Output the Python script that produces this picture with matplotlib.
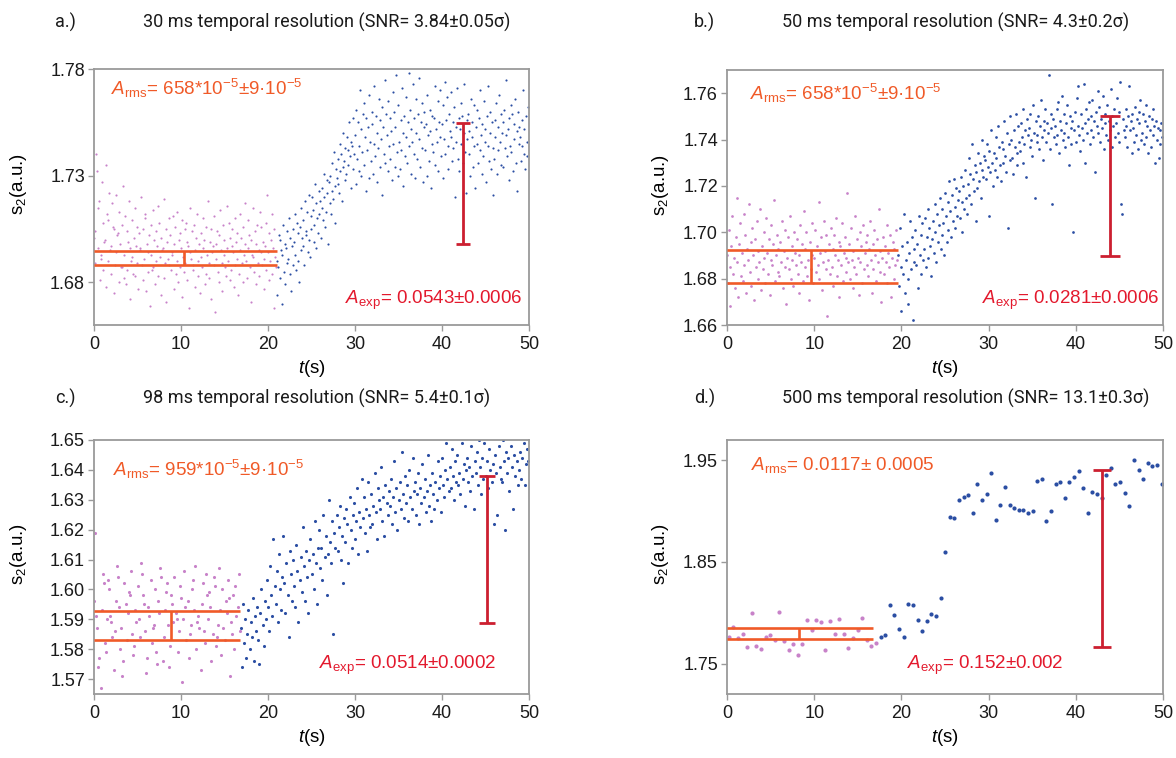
import numpy as np
import matplotlib
matplotlib.use("Agg")
import matplotlib.pyplot as plt

plt.rcParams['font.family'] = ['Liberation Sans', 'DejaVu Sans']
plt.rcParams['mathtext.fontset'] = 'custom'
plt.rcParams['mathtext.rm'] = 'Liberation Sans'
plt.rcParams['mathtext.it'] = 'Liberation Sans:italic'

PINK = "#c882c9"
BLUE = "#2b4ea3"
ORANGE = "#f05a28"
RED = "#cc1f30"
RED_TXT = "#e3192d"
GRAY = "#9a9a9a"

##############################################
######## PANEL A : 30 ms  (1e-3 a.u. above 1.66)
a_dt = 0.0833
a_pink = [41, 44, 29, 80, 72, 36, 55, 58, 21, 33, 31, 67, 48, 26, 39, 40, 75, 18, 52, 49, 30,
          62, 35, 37, 24, 57, 46, 45, 15, 28, 61, 34, 42, 43, 20, 53, 38, 27, 27, 47, 65, 22,
          33, 51, 19, 26, 44, 39, 58, 36, 12, 30, 32, 49, 24, 41, 55, 23, 37, 46, 29, 17, 43,
          35, 36, 60, 28, 21, 45, 31, 52, 50, 16, 38, 25, 34, 42, 9, 47, 33, 26, 27, 54, 40,
          19, 30, 44, 37, 23, 56, 48, 32, 14, 41, 35, 36, 22, 59, 29, 45, 11, 39, 31, 28, 50,
          42, 26, 34, 33, 51, 17, 38, 46, 24, 30, 53, 20, 40, 43, 27, 36, 13, 49, 32, 25, 45,
          29, 48, 21, 39, 37, 8, 34, 55, 31, 44, 26, 28, 47, 18, 35, 41, 52, 23, 30, 38, 15,
          43, 32, 27, 50, 36, 40, 19, 24, 46, 33, 58, 29, 22, 39, 45, 12, 34, 37, 28, 51, 6,
          38, 31, 44, 25, 20, 42, 54, 35, 29, 16, 47, 40, 33, 27, 23, 56, 36, 30, 48, 21, 41,
          26, 45, 37, 34, 18, 50, 28, 39, 43, 31, 14, 24, 52, 35, 41, 29, 46, 20, 33, 38, 57,
          30, 22, 49, 36, 42, 27, 11, 40, 33, 55, 32, 25, 44, 38, 19, 47, 29, 35, 23, 53, 34,
          46, 28, 39, 17, 31, 37, 48, 26, 61, 34, 21, 43, 30, 40, 52, 24, 36, 8, 45, 32, 27]
a_blue = [30, 14, 27, 42, 40, 22, 35, 10, 33, 47, 25, 38,
          19, 36, 44, 29, 31, 50, 24, 41, 16, 37, 45, 28,
          39, 33, 52, 26, 48, 43, 30, 20, 46, 55, 35, 41,
          49, 37, 28, 58, 44, 42, 53, 34, 61, 40, 32, 51,
          45, 60, 54, 39, 47, 66, 36, 57, 50, 43, 63, 52,
          58, 41, 64, 55, 49, 71, 60, 46, 53, 68, 62, 38,
          67, 57, 70, 52, 76, 63, 59, 81, 65, 48, 73, 69,
          78, 66, 62, 85, 72, 80, 58, 74, 90, 77, 68, 83,
          71, 88, 82, 75, 95, 79, 64, 86, 84, 73, 97, 80,
          89, 66, 101, 78, 95, 72, 84, 110, 70, 92, 81, 99,
          75, 104, 88, 63, 97, 82, 93, 69, 108, 86, 77, 100,
          94, 71, 85, 112, 79, 98, 67, 90, 83, 106, 74, 96,
          87, 102, 61, 93, 80, 115, 76, 99, 89, 72, 105, 84,
          97, 78, 91, 68, 109, 85, 100, 74, 93, 117, 81, 70,
          103, 86, 73, 96, 82, 111, 90, 65, 98, 79, 107, 88,
          76, 95, 118, 84, 101, 71, 92, 86, 113, 80, 97, 69,
          90, 106, 78, 99, 87, 116, 74, 95, 83, 104, 67, 93,
          100, 82, 94, 70, 108, 89, 77, 101, 91, 64, 98, 85,
          81, 97, 112, 75, 92, 86, 105, 72, 95, 88, 110, 79,
          94, 69, 103, 87, 114, 80, 96, 107, 84, 73, 99, 91,
          88, 109, 77, 95, 83, 102, 60, 93, 86, 111, 78, 97,
          72, 92, 104, 85, 98, 76, 90, 113, 81, 62, 96, 87,
          99, 80, 91, 70, 106, 88, 95, 74, 103, 84, 64, 93,
          85, 101, 76, 97, 82, 110, 89, 71, 94, 79, 105, 86,
          92, 67, 98, 84, 112, 77, 90, 100, 73, 95, 83, 61,
          78, 96, 88, 104, 71, 93, 82, 108, 86, 75, 99, 90,
          95, 74, 101, 83, 89, 115, 79, 92, 68, 97, 84, 103,
          81, 99, 72, 94, 87, 106, 76, 91, 63, 100, 85, 93,
          88, 77, 96, 84, 110, 80, 92, 73, 98, 86, 79, 102]

##############################################
######## PANEL B : 50 ms  (1e-3 a.u. above 1.66)
b_dt = 0.1
b_pink = [30, 18, 41, 25, 8, 34, 47, 22, 29, 16, 38, 55, 27, 12, 35, 44, 21, 31, 19, 48,
          26, 39, 14, 33, 28, 52, 23, 36, 17, 42, 30, 11, 37, 25, 45, 20, 32, 27, 50, 15,
          34, 24, 40, 29, 18, 46, 31, 22, 37, 13, 28, 43, 26, 35, 54, 19, 30, 39, 23, 33,
          21, 36, 27, 45, 16, 32, 25, 41, 9, 29, 38, 24, 47, 20, 34, 28, 17, 40, 31, 26,
          37, 22, 30, 14, 43, 27, 35, 19, 49, 25, 33, 40, 21, 28, 11, 36, 24, 44, 30, 18,
          29, 41, 23, 34, 26, 53, 20, 31, 38, 15, 27, 45, 32, 24, 39, 4, 28, 35, 22, 42,
          25, 33, 17, 39, 30, 46, 21, 28, 36, 12, 34, 26, 44, 19, 31, 38, 23, 29, 57, 27,
          35, 20, 42, 28, 16, 32, 25, 47, 22, 37, 29, 13, 40, 27, 34, 18, 43, 24, 31, 36,
          26, 39, 21, 33, 45, 28, 14, 35, 24, 41, 30, 19, 37, 27, 50, 23, 32, 10, 29, 38,
          22, 34, 27, 43, 18, 31, 25, 39, 12, 29, 36, 20, 33, 26, 41, 28]
b_blue = [30, 17, 42, 25, 6, 34, 22, 48, 14, 28,
          36, 20, 9, 31, 45, 24, 38, 2, 27, 33,
          41, 26, 35, 16, 47, 30, 22, 39, 44, 28,
          33, 46, 25, 38, 50, 29, 42, 34, 21, 37,
          45, 31, 52, 40, 27, 48, 36, 43, 55, 33,
          39, 50, 44, 30, 57, 47, 36, 53, 41, 62,
          49, 38, 56, 45, 63, 51, 42, 59, 47, 54,
          58, 46, 64, 53, 40, 60, 50, 67, 55, 48,
          61, 72, 56, 65, 52, 78, 63, 58, 69, 45,
          66, 59, 74, 62, 70, 55, 80, 67, 64, 73,
          71, 63, 78, 68, 47, 75, 66, 84, 70, 60,
          74, 67, 81, 72, 64, 86, 77, 69, 62, 79,
          76, 70, 88, 73, 66, 83, 42, 78, 71, 90,
          80, 72, 65, 84, 77, 91, 74, 69, 86, 79,
          75, 87, 81, 70, 93, 78, 84, 64, 89, 82,
          85, 77, 91, 80, 73, 95, 83, 55, 88, 79,
          82, 90, 76, 86, 97, 81, 71, 88, 84, 93,
          79, 87, 83, 108, 76, 91, 85, 52, 89, 81,
          86, 78, 93, 82, 96, 74, 88, 84, 99, 80,
          83, 91, 77, 87, 95, 81, 69, 90, 85, 78,
          88, 40, 84, 92, 79, 98, 86, 103, 82, 75,
          91, 85, 80, 104, 87, 70, 93, 83, 89, 96,
          78, 90, 84, 97, 81, 88, 66, 92, 86, 101,
          83, 94, 79, 89, 85, 99, 76, 91, 87, 82,
          95, 80, 88, 84, 102, 77, 90, 86, 93, 81,
          87, 98, 83, 92, 79, 105, 52, 48, 89, 84,
          81, 93, 86, 77, 90, 103, 84, 88, 74, 91,
          85, 79, 94, 82, 89, 76, 92, 87, 97, 80,
          83, 91, 78, 88, 95, 81, 86, 74, 90, 84,
          77, 89, 82, 93, 86, 70, 88, 80, 85, 72,
          84, 78, 87, 81]

##############################################
######## PANEL C : 98 ms  (1e-3 a.u. above 1.565)
c_dt = 0.125
c_pink = [31, 54, 26, 22, 9, 12, 2, 28, 40, 37, 17, 14, 25, 38, 35,
          26, 24, 19, 8, 21, 31, 43, 39, 29, 15, 22, 6, 11, 37, 30,
          18, 27, 34, 33, 41, 20, 13, 16, 28, 24, 36, 25, 19, 44, 40,
          33, 30, 21, 7, 12, 29, 26, 38, 17, 22, 23, 35, 14, 10, 31,
          27, 42, 39, 11, 19, 28, 34, 37, 23, 9, 16, 33, 30, 24, 39,
          27, 25, 14, 21, 36, 32, 4, 25, 41, 29, 18, 31, 12, 20, 23,
          35, 38, 28, 43, 15, 24, 26, 22, 8, 30, 37, 21, 17, 40, 33,
          25, 34, 29, 11, 20, 39, 36, 16, 19, 23, 42, 28, 13, 35, 22,
          18, 31, 27, 38, 32, 6, 24, 20, 33, 15, 36, 26, 29, 40, 21]
c_blue = [22, 9, 30, 17, 25, 12, 20, 28,
          15, 24, 19, 32, 11, 26, 21, 29,
          18, 10, 27, 35, 23, 16, 31, 25,
          38, 29, 21, 43, 33, 26, 52, 36,
          30, 41, 24, 47, 35, 28, 39, 53,
          37, 27, 44, 33, 19, 48, 40, 31,
          45, 36, 29, 50, 41, 24, 38, 46,
          34, 56, 43, 31, 48, 39, 27, 45,
          52, 40, 47, 35, 58, 44, 30, 49,
          55, 42, 49, 38, 60, 46, 53, 33,
          47, 65, 51, 44, 58, 20, 54, 49,
          60, 48, 56, 63, 45, 53, 37, 59,
          51, 62, 57, 44, 66, 55, 49, 60,
          64, 52, 58, 69, 47, 61, 56, 72,
          59, 66, 54, 62, 48, 71, 60, 56,
          67, 57, 63, 74, 61, 52, 69, 65,
          62, 76, 58, 66, 53, 70, 64, 60,
          68, 63, 72, 57, 66, 78, 61, 69,
          55, 65, 71, 62, 81, 67, 59, 73,
          64, 70, 58, 75, 66, 62, 79, 68,
          71, 60, 67, 74, 57, 69, 64, 77,
          66, 72, 61, 68, 80, 63, 70, 58,
          74, 67, 62, 71, 65, 78, 69, 73,
          61, 79, 70, 66, 75, 84, 72, 68,
          76, 69, 82, 73, 65, 78, 71, 80,
          70, 74, 67, 84, 72, 77, 63, 75,
          79, 71, 76, 68, 83, 73, 62, 78,
          74, 81, 70, 85, 76, 67, 79, 72,
          84, 73, 78, 69, 82, 75, 88, 71,
          77, 57, 80, 74, 60, 83, 76, 72,
          71, 85, 78, 55, 81, 74, 79, 68,
          83, 76, 62, 80, 73, 86, 78, 70,
          75, 81, 72, 79, 84, 70, 77, 82,
          78]

##############################################
######## PANEL D : 500 ms  (a.u.)
d_t0 = 0.2
d_dt = 0.528
d_pink = [1.776, 1.786, 1.775, 1.779, 1.766, 1.800, 1.767, 1.764, 1.776, 1.778, 1.773,
          1.801, 1.772, 1.763, 1.769, 1.758, 1.769, 1.793, 1.783, 1.793, 1.791, 1.763,
          1.792, 1.779, 1.794, 1.779, 1.765, 1.775, 1.783, 1.795, 1.773, 1.767, 1.770]
d_blue = [1.776, 1.778, 1.808, 1.798, 1.784, 1.776, 1.809, 1.808, 1.793, 1.782, 1.792,
          1.799, 1.797, 1.814, 1.860, 1.894, 1.893, 1.911, 1.914, 1.916, 1.898, 1.927,
          1.911, 1.917, 1.938, 1.891, 1.906, 1.924, 1.906, 1.903, 1.901, 1.901, 1.898,
          1.900, 1.930, 1.932, 1.890, 1.900, 1.927, 1.929, 1.913, 1.929, 1.934, 1.939,
          1.923, 1.898, 1.919, 1.917, 1.913, 1.936, 1.942, 1.927, 1.929, 1.918, 1.905,
          1.950, 1.940, 1.932, 1.947, 1.944, 1.945, 1.927]

##############################################
######## annotations
titles = ["30 ms temporal resolution (SNR= 3.84±0.05σ)",
          "50 ms temporal resolution (SNR= 4.3±0.2σ)",
          "98 ms temporal resolution (SNR= 5.4±0.1σ)",
          "500 ms temporal resolution (SNR= 13.1±0.3σ)"]
letters = ["a.)", "b.)", "c.)", "d.)"]
rms_texts = [r"$A_{\rm rms}$= 658*10$^{-5}$±9·10$^{-5}$",
             r"$A_{\rm rms}$= 658*10$^{-5}$±9·10$^{-5}$",
             r"$A_{\rm rms}$= 959*10$^{-5}$±9·10$^{-5}$",
             r"$A_{\rm rms}$= 0.0117± 0.0005"]
exp_texts = [r"$A_{\rm exp}$= 0.0543±0.0006",
             r"$A_{\rm exp}$= 0.0281±0.0006",
             r"$A_{\rm exp}$= 0.0514±0.0002",
             r"$A_{\rm exp}$= 0.152±0.002"]
rms_lo = [1.6880, 1.6783, 1.5831, 1.7739]
rms_hi = [1.6946, 1.6925, 1.5928, 1.7851]
rms_end = [21.0, 19.6, 16.8, 16.8]
rms_mid = [10.4, 9.6, 8.8, 8.2]
exp_x = [42.4, 43.9, 45.2, 43.0]
exp_lo = [1.6978, 1.6896, 1.5886, 1.7667]
exp_hi = [1.7546, 1.7501, 1.6378, 1.9400]
ylims = [(1.66, 1.78), (1.66, 1.77), (1.565, 1.65), (1.72, 1.97)]
yticks = [[1.68, 1.73, 1.78], [1.66, 1.68, 1.70, 1.72, 1.74, 1.76],
          [1.57, 1.58, 1.59, 1.60, 1.61, 1.62, 1.63, 1.64, 1.65], [1.75, 1.85, 1.95]]
rms_pos = [(1.95, 1.771), (2.6, 1.760), (2.2, 1.640), (2.7, 1.945)]
exp_pos = [(49.3, 1.6715), (49.6, 1.6705), (46.2, 1.5745), (38.6, 1.748)]
msize = [2.4, 3.8, 5.0, 9.0]
capsz = [5, 7, 6, 6.3]


def series(k):
    if k == 0:
        pink = 1.66 + np.array(a_pink) / 1000.0
        blue = 1.66 + np.array(a_blue) / 1000.0
        t = np.arange(len(a_pink) + len(a_blue)) * a_dt
    elif k == 1:
        pink = 1.66 + np.array(b_pink) / 1000.0
        blue = 1.66 + np.array(b_blue) / 1000.0
        t = np.arange(len(b_pink) + len(b_blue)) * b_dt
    elif k == 2:
        pink = 1.565 + np.array(c_pink) / 1000.0
        blue = 1.565 + np.array(c_blue) / 1000.0
        t = np.arange(len(c_pink) + len(c_blue)) * c_dt
    else:
        pink = np.array(d_pink)
        blue = np.array(d_blue)
        t = d_t0 + np.arange(len(d_pink) + len(d_blue)) * d_dt
    return t[:len(pink)], pink, t[len(pink):], blue


def main():
    fig = plt.figure(figsize=(11.76, 7.58), dpi=100)
    W, H = 1176.0, 758.0
    # axes boxes in pixels: left, top, right, bottom
    boxes = [(94, 69, 529, 325), (727, 70, 1163, 325),
             (94, 440, 529, 694), (727, 440, 1163, 694)]
    ylab_x = [-0.150, -0.128, -0.150, -0.128]

    for k in range(4):
        l, t_, r, b = boxes[k]
        ax = fig.add_axes([l / W, 1 - b / H, (r - l) / W, (b - t_) / H])
        tp, yp, tb, yb = series(k)
        ax.scatter(tp, yp, s=msize[k], color=PINK, linewidths=0, zorder=2)
        ax.scatter(tb, yb, s=msize[k], color=BLUE, linewidths=0, zorder=2)

        # baseline rms band
        ax.hlines([rms_lo[k], rms_hi[k]], 0, rms_end[k], color=ORANGE, lw=1.9, zorder=3)
        ax.vlines(rms_mid[k], rms_lo[k], rms_hi[k], color=ORANGE, lw=1.9, zorder=3)

        # amplitude bar
        mid = (exp_lo[k] + exp_hi[k]) / 2
        ax.errorbar([exp_x[k]], [mid], yerr=[[mid - exp_lo[k]], [exp_hi[k] - mid]],
                    fmt='none', ecolor=RED, elinewidth=2.0, capsize=capsz[k],
                    capthick=2.0, zorder=4)

        ax.text(rms_pos[k][0], rms_pos[k][1], rms_texts[k], color=ORANGE,
                fontsize=13.5, ha='left', va='center')
        ax.text(exp_pos[k][0], exp_pos[k][1], exp_texts[k], color=RED_TXT,
                fontsize=13.5, ha='right', va='center')

        ax.set_xlim(0, 50)
        ax.set_ylim(*ylims[k])
        ax.set_xticks([0, 10, 20, 30, 40, 50])
        ax.set_yticks(yticks[k])
        ax.set_yticklabels(["%.2f" % v for v in yticks[k]])
        ax.tick_params(axis='both', direction='out', length=4, width=1,
                       color=GRAY, labelsize=13, labelcolor='#1a1a1a')
        ax.tick_params(axis='y', pad=2.5)
        ax.tick_params(axis='x', pad=4)
        for sp in ax.spines.values():
            sp.set_color(GRAY)
            sp.set_linewidth(1.3)

        ax.set_xlabel(r"$t$(s)", fontsize=13.5)
        ax.xaxis.set_label_coords(0.5, -0.13)
        ax.set_ylabel(r"s$_2$(a.u.)", fontsize=13.5)
        ax.yaxis.set_label_coords(ylab_x[k], 0.55)

        # letter and title above each panel
        if k % 2 == 0:
            lx, tx = 55, 143
        else:
            lx, tx = 694, 782
        ty = 22 if k < 2 else 398
        fig.text(lx / W, 1 - ty / H, letters[k], fontsize=13, family='Roboto',
                 ha='left', va='center', color='#1a1a1a')
        fig.text(tx / W, 1 - ty / H, titles[k], fontsize=13, family='Roboto',
                 ha='left', va='center', color='#1a1a1a')

    fig.savefig("out.png", dpi=100)
    return


if __name__ == "__main__":
    main()
